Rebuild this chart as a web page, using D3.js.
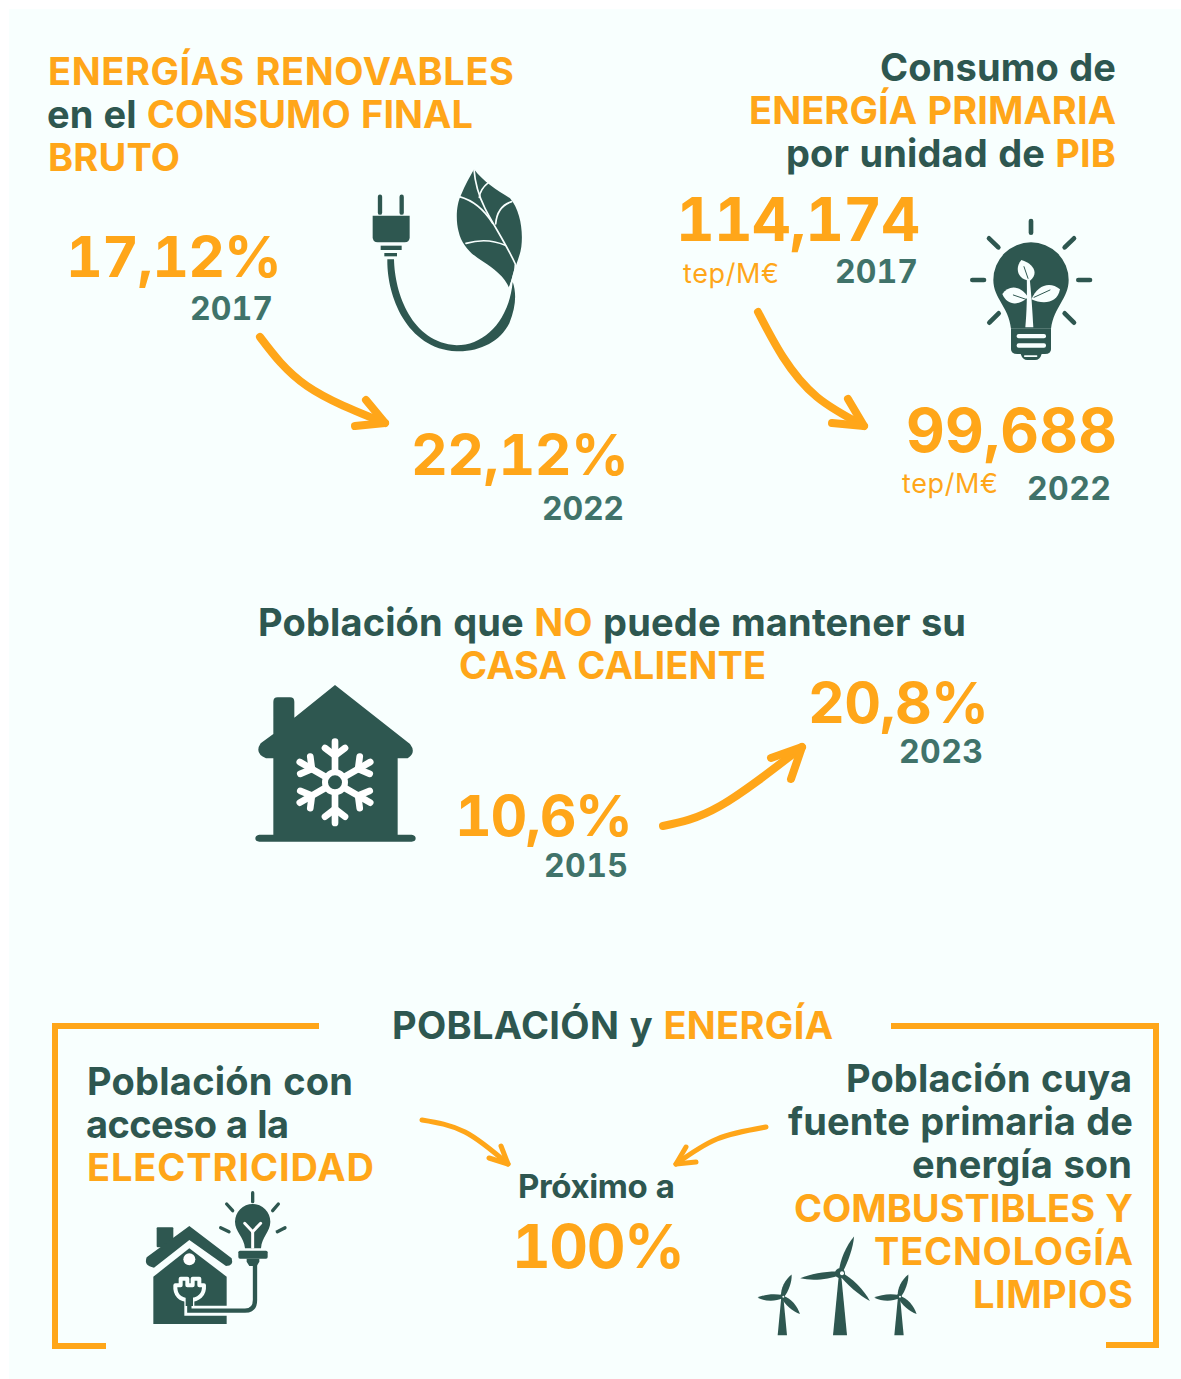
<!DOCTYPE html>
<html><head><meta charset="utf-8">
<script src="https://cdn.jsdelivr.net/npm/d3@7/dist/d3.min.js"></script>
<style>html,body{margin:0;padding:0;background:#fff}svg{display:block}text{font-family:Inter,"Open Sans",sans-serif;font-feature-settings:"tnum" 1}.num{font-kerning:none;font-feature-settings:"tnum" 1,"kern" 0}</style>
</head><body><script>
// ---- content ----
const renewablesHeading = [[["ENERGÍAS RENOVABLES","o"]],[["en el ","d"],["CONSUMO FINAL","o"]],[["BRUTO","o"]]];
const renewablesValues = ["17,12%","22,12%"];
const renewablesYears = ["2017","2022"];
const primaryHeading = [[["Consumo de","d"]],[["ENERGÍA PRIMARIA","o"]],[["por unidad de ","d"],["PIB","o"]]];
const primaryValues = ["114,174","99,688"];
const primaryUnit = "tep/M€";
const primaryYears = ["2017","2022"];
const heatHeading = [[["Población que ","d"],["NO","o"],[" puede mantener su","d"]],[["CASA CALIENTE","o"]]];
const heatValues = ["10,6%","20,8%"];
const heatYears = ["2015","2023"];
const popTitle = [["POBLACIÓN y ","d"],["ENERGÍA","o"]];
const accessLines = [[["Población con","d"]],[["acceso a la","d"]],[["ELECTRICIDAD","o"]]];
const cleanLines = [[["Población cuya","d"]],[["fuente primaria de","d"]],[["energía son","d"]],[["COMBUSTIBLES Y","o"]],[["TECNOLOGÍA","o"]],[["LIMPIOS","o"]]];
const nearLabel = "Próximo a";
const nearValue = "100%";

// ---- styling ----
const W=1181,H=1379, ORANGE="#FFA619", DARK="#2E5750", TEAL="#40736A", BG="#F8FFFE";
const col={o:ORANGE,d:DARK,t:TEAL};
const svg=d3.select("body").append("svg").attr("width",W).attr("height",H);
svg.append("rect").attr("width",W).attr("height",H).attr("fill","#fff");
svg.append("rect").attr("x",9).attr("y",9).attr("width",W-9).attr("height",H-9).attr("fill",BG);

function txt(runs,x0,x1,y,size,weight=700){
  if(typeof runs==="string") runs=[[runs,"o"]];
  const t=svg.append("text").attr("x",x0).attr("y",y).attr("font-size",size).attr("font-weight",weight)
    .attr("textLength",x1-x0).attr("lengthAdjust","spacing").attr("xml:space","preserve").style("white-space","pre");
  t.selectAll("tspan").data(runs).join("tspan").attr("fill",d=>col[d[1]]).text(d=>d[0]);
  return t;
}
function num(s,x0,x1,y,size){return txt(s,x0-4,x1+4,y,size).attr("class","num");}
const HS=38, NS=57, YS=32;
// top-left
[[48,514,84.5],[47,473,127.5],[48,180,170.5]].forEach((p,i)=>txt(renewablesHeading[i],p[0],p[1],p[2],HS));
num(renewablesValues[0],70,278,277,NS);
txt([[renewablesYears[0],"t"]],190,273,319.5,YS);
num(renewablesValues[1],415,625,475,NS);
txt([[renewablesYears[1],"t"]],542,624,519.5,YS);
// top-right
[[880,1116,80.5],[749,1116,123.5],[786,1116,166.5]].forEach((p,i)=>txt(primaryHeading[i],p[0],p[1],p[2],HS));
num(primaryValues[0],680,916,241,60);
txt(primaryUnit,683,779,283,27,400);
txt([[primaryYears[0],"t"]],835,918,282.5,YS);
num(primaryValues[1],910,1113,452,60);
txt(primaryUnit,902,998,493,27,400);
txt([[primaryYears[1],"t"]],1027,1111,499.5,YS);
// middle
txt(heatHeading[0],258,966,635.5,HS);
txt(heatHeading[1],459,766,678.5,HS);
num(heatValues[1],812,985,723,NS);
txt([[heatYears[1],"t"]],899,983,762.5,YS);
num(heatValues[0],459,629,836,NS);
txt([[heatYears[0],"t"]],544,628,876.5,YS);
// bottom
txt(popTitle,392,833,1038.5,HS);
[[87,353,1094.5],[86,289,1137.5],[87,374,1180.5]].forEach((p,i)=>txt(accessLines[i],p[0],p[1],p[2],HS));
[[846,1132,1091.5],[788,1133,1134.5],[912,1132,1177.5],[794,1133,1221.5],[874,1133,1264.5],[973,1133,1307.5]].forEach((p,i)=>txt(cleanLines[i],p[0],p[1],p[2],HS));
txt([[nearLabel,"d"]],518,675,1198,33);
num(nearValue,516,681,1268,60);

// brackets
const poly=d3.line();
[[[319,1026],[55,1026],[55,1346],[106,1346]],[[891,1026],[1156,1026],[1156,1345],[1106,1345]]].forEach(p=>
  svg.append("path").attr("d",poly(p)).attr("fill","none").attr("stroke",ORANGE).attr("stroke-width",6));

// arrows
const curve=d3.line().curve(d3.curveNatural);
function arrow(points,b1,b2,w){
  const g=svg.append("g").attr("fill","none").attr("stroke",ORANGE).attr("stroke-width",w).attr("stroke-linecap","round").attr("stroke-linejoin","round");
  g.append("path").attr("d",curve(points));
  const e=points[points.length-1];
  g.append("path").attr("d",poly([b1,e,b2]));
}
arrow([[260,337],[307,386],[385,423]],[366,400],[355,426],8);
arrow([[758,312],[783,357],[817,397],[864,426]],[848,399],[832,423],8);
arrow([[663,826],[720,806],[802,747]],[771,758],[791,779],8);
arrow([[422,1120],[465,1132],[508,1164]],[501,1146],[489,1158],5);
arrow([[766,1127],[717,1139],[676,1164]],[686,1147],[696,1162],5);

// ---- icons, drawn in 3x crop coordinates ----
function icon(x,y){return svg.append("g").attr("transform",`translate(${x},${y}) scale(${1/3})`);}
function seg(g,list,w,c=DARK){list.forEach(s=>g.append("path").attr("d",poly(s)).attr("fill","none").attr("stroke",c).attr("stroke-width",w).attr("stroke-linecap","round"));}

// plug + leaf
{const g=icon(350,160);
 seg(g,[[[90,110],[90,158]],[[155,110],[155,158]]],13);
 g.append("path").attr("fill",DARK).attr("d","M68 167H179V232Q179 247 164 247H83Q68 247 68 232Z");
 g.append("rect").attr("x",92).attr("y",257).attr("width",63).attr("height",13).attr("fill",DARK);
 g.append("rect").attr("x",103).attr("y",279).attr("width",38).attr("height",10).attr("fill",DARK);
 g.append("path").attr("fill",DARK).attr("d","M112 298H132C134 400 185 548 320 556C405 556 478 480 488 365C500 400 498 440 478 490C450 545 390 576 320 574C165 565 110 400 112 298Z");
 g.append("path").attr("fill",DARK).attr("d","M372 28C400 65 440 90 480 115C510 150 520 210 514 260C510 290 495 320 488 345L478 385C465 350 430 325 400 305C365 285 335 255 326 215C316 180 320 130 333 105C345 75 360 50 372 28Z");
 const v=g.append("g").attr("fill","none").attr("stroke",BG).attr("stroke-width",5).attr("stroke-linecap","round");
 v.append("path").attr("d","M372 28C375 70 385 105 405 145C430 195 470 255 496 312C497 340 485 365 478 385");
 v.append("path").attr("d","M328 110C365 120 400 145 428 190");
 v.append("path").attr("d","M415 68C400 80 390 92 388 112");
 v.append("path").attr("d","M485 125C460 133 440 155 437 192");
 v.append("path").attr("d","M348 250C390 238 430 240 466 256");
}
// bulb
{const g=icon(950,210);
 seg(g,[[[243,33],[243,68]],[[117,85],[145,112]],[[372,85],[344,112]],[[67,210],[102,210]],[[385,210],[420,210]],[[118,338],[146,310]],[[372,338],[344,310]]],14);
 g.append("path").attr("fill",DARK).attr("d","M130 210A113 113 0 1 1 356 210C356 265 312 290 303 356H183C176 290 130 265 130 210Z");
 g.append("path").attr("fill",DARK).attr("d","M183 356H303V418Q303 432 285 432H275Q270 450 255 450H232Q218 450 212 432H202Q183 432 183 418Z");
 g.append("rect").attr("x",200).attr("y",372).attr("width",88).attr("height",13).attr("rx",6).attr("fill",BG);
 g.append("rect").attr("x",200).attr("y",400).attr("width",88).attr("height",13).attr("rx",6).attr("fill",BG);
 g.append("rect").attr("x",222).attr("y",436).attr("width",40).attr("height",5).attr("rx",2).attr("fill",BG);
 const w=g.append("g").attr("fill",BG);
 w.append("path").attr("d","M226 352C230 310 232 250 230 195L238 195C244 250 248 310 250 352Z");
 w.append("path").attr("d","M214 150C250 160 268 190 240 212C205 212 192 175 214 150Z");
 w.append("path").attr("d","M157 252C175 225 212 225 234 262C205 290 170 285 157 252Z");
 w.append("path").attr("d","M330 238C300 212 262 225 244 268C280 285 322 280 330 238Z");
 seg(g,[[[222,170],[234,205]],[[190,255],[228,268]],[[300,240],[252,262]]],3);
}
// house + snowflake
{const g=icon(240,670);
 g.append("path").attr("fill",DARK).attr("d","M285 45L510 222Q530 248 503 265H473V494H515Q527 496 527 505Q527 515 515 515H58Q46 515 46 505Q46 496 58 494H100V265H78Q42 250 62 220L100 192V95Q100 82 113 82H150Q163 82 163 95V143Z");
 const c=g.append("g").attr("transform","translate(285,337)");
 c.append("circle").attr("r",30).attr("fill","none").attr("stroke","#fff").attr("stroke-width",18);
 d3.range(6).forEach(i=>{
   const a=c.append("g").attr("transform",`rotate(${i*60})`);
   seg(a,[[[0,-34],[0,-122]],[[0,-80],[-30,-103]],[[0,-80],[30,-103]]],20,"#fff");
 });
}
// electricity house
{const g=icon(130,1180);
 g.append("rect").attr("x",80).attr("y",142).attr("width",50).attr("height",60).attr("rx",3).attr("fill",DARK);
 g.append("path").attr("fill",DARK).attr("d","M178 138L305 235Q312 258 288 258L178 180L72 263Q40 258 50 232Z");
 g.append("path").attr("fill",DARK).attr("d","M178 205L290 290V432H70V290Z");
 g.append("circle").attr("cx",178).attr("cy",238).attr("r",18).attr("fill","#fff");
 g.append("path").attr("fill","none").attr("stroke",BG).attr("stroke-width",30).attr("d","M178 355V392H345Q378 392 378 360V280");
 g.append("path").attr("fill","none").attr("stroke",DARK).attr("stroke-width",13).attr("d","M178 355V392H345Q375 392 375 360V250");
 g.append("path").attr("fill",DARK).attr("stroke",BG).attr("stroke-width",12).attr("stroke-linejoin","round").attr("d","M152 296H172V316H188V296H208V316H222C224 345 205 360 178 360C150 360 134 345 136 316H152Z");
 g.append("rect").attr("x",167).attr("y",350).attr("width",22).attr("height",28).attr("fill",DARK);
 g.append("path").attr("fill",DARK).attr("d","M315 125A53 53 0 1 1 421 125C421 155 395 170 393 205H345C342 170 315 155 315 125Z");
 g.append("rect").attr("x",325).attr("y",212).attr("width",88).attr("height",24).attr("rx",5).attr("fill",DARK);
 g.append("path").attr("fill",DARK).attr("d","M350 236H388V245L380 258H358L350 245Z");
 seg(g,[[[344,130],[368,155]],[[392,130],[368,155]],[[368,155],[368,202]]],9,"#fff");
 seg(g,[[[368,38],[368,65]],[[290,72],[308,92]],[[445,72],[428,92]],[[272,143],[297,155]],[[465,143],[442,155]]],10);
}
// wind turbines
{const g=icon(740,1220);
 const blade=L=>{const k=L/118;return `M-4 0C-13 ${-35*k} -8 ${-85*k} 6 ${-L}C14 ${-85*k} 13 ${-35*k} 5 0Z`;};
 function turbine(cx,cy,blades,halfBase,base){
   const t=g.append("g").attr("fill",DARK);
   t.append("path").attr("d",`M${cx-3} ${cy}L${cx-halfBase} ${base}H${cx+halfBase}L${cx+3} ${cy}Z`);
   blades.forEach(b=>t.append("path").attr("transform",`translate(${cx},${cy}) rotate(${b[0]})`).attr("d",blade(b[1])));
   t.append("circle").attr("cx",cx).attr("cy",cy).attr("r",halfBase>15?15:8);
   t.append("circle").attr("cx",cx+(halfBase>15?6:3)).attr("cy",cy).attr("r",halfBase>15?6:3).attr("fill",BG);
 }
 turbine(300,160,[[18,118],[-100,120],[130,122]],21,346);
 turbine(127,230,[[18,72],[-97,74],[130,74]],14,346);
 turbine(477,230,[[18,72],[-97,74],[130,74]],14,346);
}
</script></body></html>
